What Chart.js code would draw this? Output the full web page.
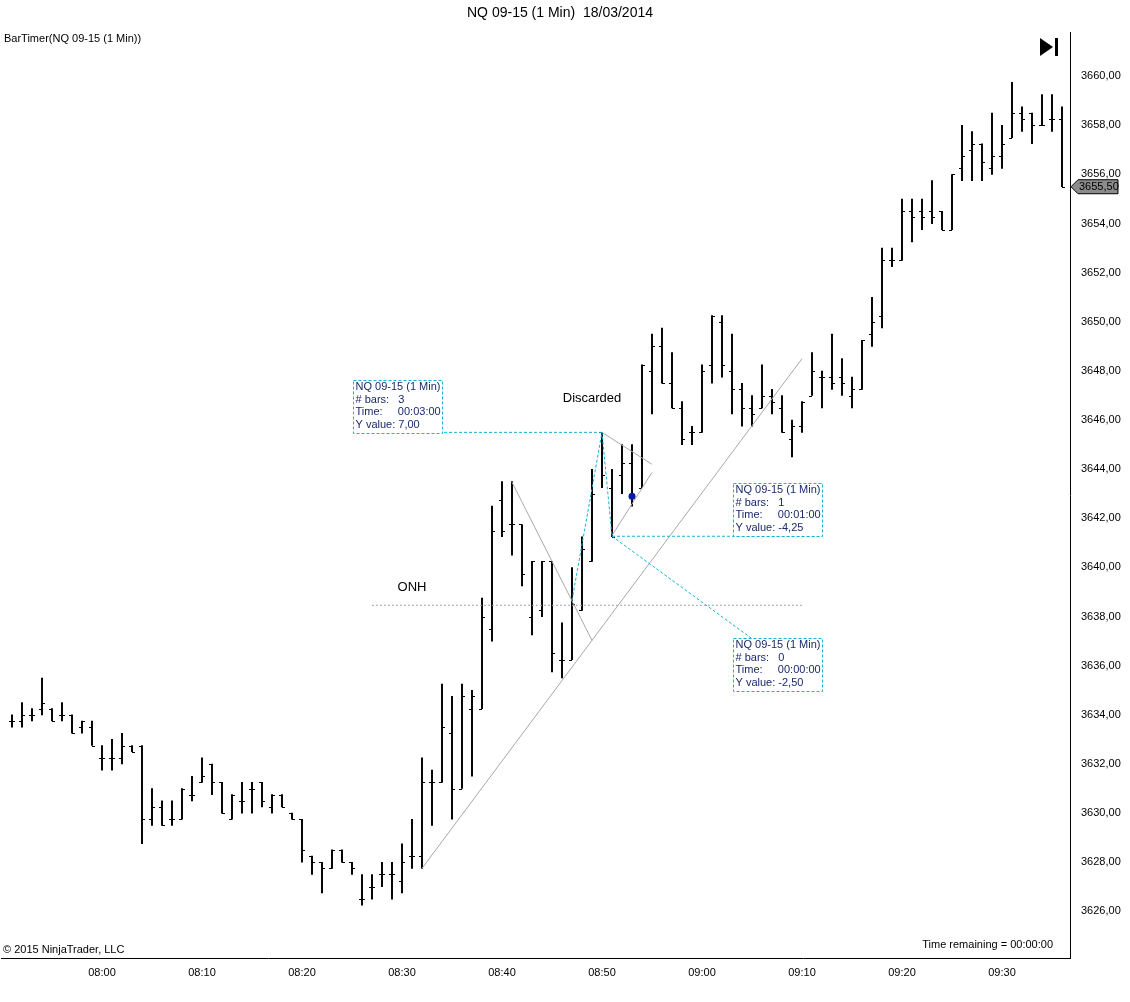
<!DOCTYPE html>
<html>
<head>
<meta charset="utf-8">
<script src="https://cdn.jsdelivr.net/npm/chart.js@4"></script>
<style>
  body { margin: 0; background: #fff; }
  #wrap { position: absolute; left: 0; top: 0; width: 1130px; height: 1002px; }
</style>
</head>
<body>
<div id="wrap"><canvas id="chart"></canvas></div>
<script>
// bar index 0 = 07:51, one bar per minute
const opens = [3633.75,3633.75,3634.0,3634.25,3634.25,3634.0,3634.0,3633.5,3633.5,3632.25,
  3632.25,3632.25,3632.75,3632.75,3629.75,3630.25,3629.75,3629.75,3630.75,3631.25,
  3632.0,3631.25,3629.75,3630.5,3631.0,3631.25,3630.25,3630.75,3630.0,3629.75,
  3628.25,3628.0,3627.75,3628.5,3628.0,3626.5,3627.0,3627.5,3627.5,3627.25,
  3628.25,3628.25,3631.25,3631.25,3633.25,3631.0,3634.25,3634.25,3637.5,3642.75,
  3641.75,3641.75,3638.0,3638.25,3640.25,3636.25,3636.25,3638.25,3640.25,3645.5,
  3643.25,3643.75,3644.25,3643.25,3648.0,3649.0,3647.5,3646.5,3645.5,3645.5,
  3648.25,3650.0,3648.0,3647.25,3646.5,3646.5,3647.0,3646.5,3645.25,3645.75,
  3647.0,3647.75,3647.75,3647.75,3647.0,3647.25,3649.5,3650.25,3652.5,3652.5,
  3654.5,3654.5,3654.5,3654.5,3653.75,3656.25,3657.0,3657.25,3656.25,3656.75,
  3657.5,3658.5,3658.5,3658.0,3658.25,3658.25];
const highs = [3634.0,3634.5,3634.25,3635.5,3634.25,3634.5,3634.0,3633.75,3633.75,3632.75,
  3633.0,3633.25,3632.75,3632.75,3631.0,3630.5,3630.5,3631.0,3631.5,3632.25,
  3632.0,3631.25,3630.75,3631.25,3631.25,3631.25,3630.75,3630.75,3630.0,3629.75,
  3628.25,3628.0,3628.5,3628.5,3628.0,3627.5,3627.5,3628.0,3628.0,3628.75,
  3629.75,3632.25,3631.75,3635.25,3634.75,3635.25,3635.0,3638.75,3642.5,3643.5,
  3643.5,3641.75,3640.25,3640.25,3640.25,3637.75,3640.0,3641.25,3644.0,3645.5,
  3644.0,3645.0,3645.0,3648.25,3649.5,3649.75,3648.75,3646.75,3645.75,3648.25,
  3650.25,3650.25,3649.5,3647.5,3647.0,3648.25,3647.25,3647.0,3646.0,3646.75,
  3648.75,3648.0,3649.5,3648.5,3647.75,3649.25,3651.0,3653.0,3653.0,3655.0,
  3655.0,3655.0,3655.75,3654.5,3656.0,3658.0,3657.75,3657.25,3658.5,3658.0,
  3659.75,3658.75,3658.5,3659.25,3659.25,3658.75];
const lows = [3633.5,3633.5,3633.75,3634.0,3633.75,3633.75,3633.25,3633.25,3632.75,3631.75,
  3631.75,3632.0,3632.5,3628.75,3629.5,3629.5,3629.5,3629.75,3630.5,3631.25,
  3630.75,3630.0,3629.75,3630.0,3630.0,3630.25,3630.0,3630.25,3629.75,3628.0,
  3627.5,3626.75,3627.75,3628.0,3627.5,3626.25,3626.5,3627.0,3626.5,3626.75,
  3627.75,3627.75,3629.5,3631.25,3629.75,3631.0,3631.5,3634.25,3637.0,3641.25,
  3640.5,3639.25,3637.25,3638.0,3635.75,3635.5,3636.25,3638.25,3640.25,3643.25,
  3641.25,3643.0,3642.5,3643.25,3646.25,3647.5,3646.5,3645.0,3645.0,3645.5,
  3647.5,3647.75,3646.25,3645.75,3645.75,3646.5,3646.25,3645.5,3644.5,3645.5,
  3647.0,3646.5,3647.25,3647.0,3646.5,3647.25,3649.0,3649.75,3652.25,3652.5,
  3653.25,3653.75,3654.0,3653.75,3653.75,3655.75,3655.75,3655.75,3656.0,3656.25,
  3657.5,3657.75,3657.25,3658.0,3657.75,3655.5];
const closes = [3633.75,3634.0,3634.0,3634.5,3633.75,3634.0,3633.25,3633.75,3632.75,3632.25,
  3632.25,3632.75,3632.5,3629.75,3630.25,3629.5,3629.75,3631.0,3630.75,3631.5,
  3631.25,3630.0,3630.75,3630.5,3631.0,3630.5,3630.75,3630.25,3629.75,3628.5,
  3628.0,3627.75,3628.5,3628.0,3627.75,3626.5,3627.0,3627.5,3627.5,3628.0,
  3628.25,3631.25,3631.25,3633.5,3631.0,3634.75,3634.75,3638.0,3641.5,3641.5,
  3641.75,3639.75,3640.25,3640.25,3636.5,3636.25,3638.5,3640.75,3643.0,3643.75,
  3641.25,3644.25,3643.0,3648.25,3649.0,3647.5,3646.5,3645.25,3645.5,3648.0,
  3650.25,3648.25,3647.25,3646.5,3646.25,3647.0,3646.75,3645.5,3645.75,3646.75,
  3648.0,3647.75,3647.5,3647.5,3647.25,3649.25,3650.0,3652.5,3652.5,3654.5,
  3654.25,3654.25,3654.25,3653.75,3656.0,3656.75,3657.25,3656.5,3656.75,3657.25,
  3658.5,3658.25,3658.0,3658.0,3658.25,3655.5];
const timeTicks = [9, 19, 29, 39, 49, 59, 69, 79, 89, 99];
const timeLabels = ['08:00','08:10','08:20','08:30','08:40','08:50','09:00','09:10','09:20','09:30'];
const priceTicks = [3626, 3628, 3630, 3632, 3634, 3636, 3638, 3640, 3642, 3644, 3646, 3648, 3650, 3652, 3654, 3656, 3658, 3660];

// drawing tool anchors, [bar index, price]
const onhLine = [[36, 3638.46], [79, 3638.46]];
const trendLine = [[41, 3627.75], [79, 3648.5]];
const grayLines = [
  [[50, 3643.47], [58, 3637.03]],
  [[59, 3645.5], [64, 3644.2]],
  [[60, 3641.3], [64, 3643.87]]
];
const cyanPath = [[56, 3638.66], [59, 3645.5], [60, 3641.27], [74, 3637.1]];
const cyanLevels = [[[34.2, 3645.5], [59, 3645.5]], [[60, 3641.27], [81, 3641.27]]];
const infoBoxes = [
  { at: [34.1, 3647.62], lines: ['NQ 09-15 (1 Min)', '# bars:   3', 'Time:     00:03:00', 'Y value: 7,00'] },
  { at: [72.1, 3643.43], lines: ['NQ 09-15 (1 Min)', '# bars:   1', 'Time:     00:01:00', 'Y value: -4,25'] },
  { at: [72.1, 3637.12], lines: ['NQ 09-15 (1 Min)', '# bars:   0', 'Time:     00:00:00', 'Y value: -2,50'] }
];
const blueDot = [62, 3642.9];
const lastPrice = 3655.5;

const fontName = '"Liberation Sans", Arial, sans-serif';
const fmt = v => v.toFixed(2).replace('.', ',');

const overlay = {
  id: 'overlay',
  afterDatasetsDraw(chart) {
    const ctx = chart.ctx;
    const xs = chart.scales.x, ys = chart.scales.y;
    const X = v => xs.getPixelForValue(v), Y = v => ys.getPixelForValue(v);
    const area = chart.chartArea;
    ctx.save();
    ctx.beginPath();
    ctx.rect(area.left, area.top, area.right - area.left, area.bottom - area.top);
    ctx.clip();
    // open / close ticks
    ctx.strokeStyle = '#000';
    ctx.lineWidth = 1;
    for (let i = 0; i < opens.length; i++) {
      const x = Math.round(X(i));
      let yo = Math.round(Y(opens[i])) + 0.5, yc = Math.round(Y(closes[i])) + 0.5;
      ctx.beginPath();
      ctx.moveTo(x - 3, yo); ctx.lineTo(x, yo);
      ctx.moveTo(x, yc); ctx.lineTo(x + 3, yc);
      ctx.stroke();
    }
    const seg = (a, b) => { ctx.beginPath(); ctx.moveTo(X(a[0]), Y(a[1])); ctx.lineTo(X(b[0]), Y(b[1])); ctx.stroke(); };
    // gray drawings
    ctx.strokeStyle = '#a8a8a8';
    ctx.setLineDash([2, 2]);
    seg(onhLine[0], onhLine[1]);
    ctx.setLineDash([]);
    seg(trendLine[0], trendLine[1]);
    grayLines.forEach(l => seg(l[0], l[1]));
    // cyan measure lines
    ctx.strokeStyle = '#1ab0d8';
    ctx.setLineDash([3, 2]);
    ctx.beginPath();
    cyanPath.forEach((p, k) => k ? ctx.lineTo(X(p[0]), Y(p[1])) : ctx.moveTo(X(p[0]), Y(p[1])));
    ctx.stroke();
    cyanLevels.forEach(l => seg(l[0], l[1]));
    // info boxes
    ctx.font = '11px ' + fontName;
    ctx.textBaseline = 'top';
    infoBoxes.forEach(b => {
      const bx = Math.round(X(b.at[0])) + 0.5, by = Math.round(Y(b.at[1])) + 0.5;
      ctx.fillStyle = '#fff';
      ctx.fillRect(bx, by, 89, 53);
      ctx.strokeStyle = '#1ab0d8';
      ctx.strokeRect(bx, by, 89, 53);
      ctx.fillStyle = '#1a2a6a';
      b.lines.forEach((t, k) => ctx.fillText(t, bx + 2, by + 1 + k * 12.5));
    });
    ctx.setLineDash([]);
    // blue dot
    ctx.fillStyle = '#0a1aa8';
    ctx.beginPath();
    ctx.arc(X(blueDot[0]), Y(blueDot[1]), 3.5, 0, Math.PI * 2);
    ctx.fill();
    // labels
    ctx.fillStyle = '#000';
    ctx.font = '13px ' + fontName;
    ctx.textBaseline = 'middle';
    ctx.textAlign = 'center';
    ctx.fillText('ONH', X(40), Y(3639.2));
    ctx.fillText('Discarded', X(58), Y(3646.9));
    ctx.restore();

    // texts around the panel
    ctx.save();
    ctx.fillStyle = '#000';
    ctx.font = '14px ' + fontName;
    ctx.textAlign = 'center';
    ctx.textBaseline = 'middle';
    ctx.fillText('NQ 09-15 (1 Min)  18/03/2014', 560, 13);
    ctx.font = '11px ' + fontName;
    ctx.textAlign = 'left';
    ctx.fillText('BarTimer(NQ 09-15 (1 Min))', 4, 39);
    ctx.fillText('\u00a9 2015 NinjaTrader, LLC', 3, 950);
    ctx.textAlign = 'right';
    ctx.fillText('Time remaining = 00:00:00', 1053, 945);
    // play-to-end icon
    ctx.beginPath();
    ctx.moveTo(1040, 38); ctx.lineTo(1053, 47); ctx.lineTo(1040, 56); ctx.closePath();
    ctx.fill();
    ctx.fillRect(1055, 38, 3, 18);
    // last price marker
    const yp = Y(lastPrice);
    ctx.fillStyle = '#8c8c8c';
    ctx.strokeStyle = '#000';
    ctx.beginPath();
    ctx.moveTo(area.right + 1, yp); ctx.lineTo(area.right + 8, yp - 7);
    ctx.lineTo(area.right + 48, yp - 7); ctx.lineTo(area.right + 48, yp + 7);
    ctx.lineTo(area.right + 8, yp + 7); ctx.closePath();
    ctx.fill(); ctx.stroke();
    ctx.fillStyle = '#000';
    ctx.textAlign = 'left';
    ctx.fillText(fmt(lastPrice), area.right + 9, yp);
    ctx.restore();
  }
};

new Chart(document.getElementById('chart'), {
  type: 'bar',
  data: {
    datasets: [{
      data: lows.map((l, i) => ({ x: i, y: [l, highs[i]] })),
      backgroundColor: '#000',
      borderWidth: 0,
      barThickness: 1.3
    }]
  },
  options: {
    responsive: true,
    maintainAspectRatio: false,
    animation: false,
    layout: { padding: { top: 32, left: 1, right: 0, bottom: 0 } },
    plugins: { legend: { display: false }, tooltip: { enabled: false } },
    scales: {
      x: {
        type: 'linear',
        offset: false,
        min: -1.1,
        max: 105.8,
        grid: { display: false, offset: false },
        border: { color: '#000' },
        afterBuildTicks: axis => { axis.ticks = timeTicks.map(v => ({ value: v })); },
        afterFit: axis => { axis.height = 44; },
        ticks: {
          autoSkip: false,
          maxRotation: 0,
          padding: 0,
          color: '#000',
          font: { family: fontName, size: 11 },
          callback: v => timeLabels[timeTicks.indexOf(v)]
        }
      },
      y: {
        position: 'right',
        min: 3624.1,
        max: 3661.8,
        grid: { display: false },
        border: { color: '#000' },
        afterBuildTicks: axis => { axis.ticks = priceTicks.map(v => ({ value: v })); },
        afterFit: axis => { axis.width = 60; },
        ticks: {
          color: '#000',
          font: { family: fontName, size: 11 },
          callback: v => fmt(v)
        }
      }
    }
  },
  plugins: [overlay]
});
</script>
</body>
</html>
